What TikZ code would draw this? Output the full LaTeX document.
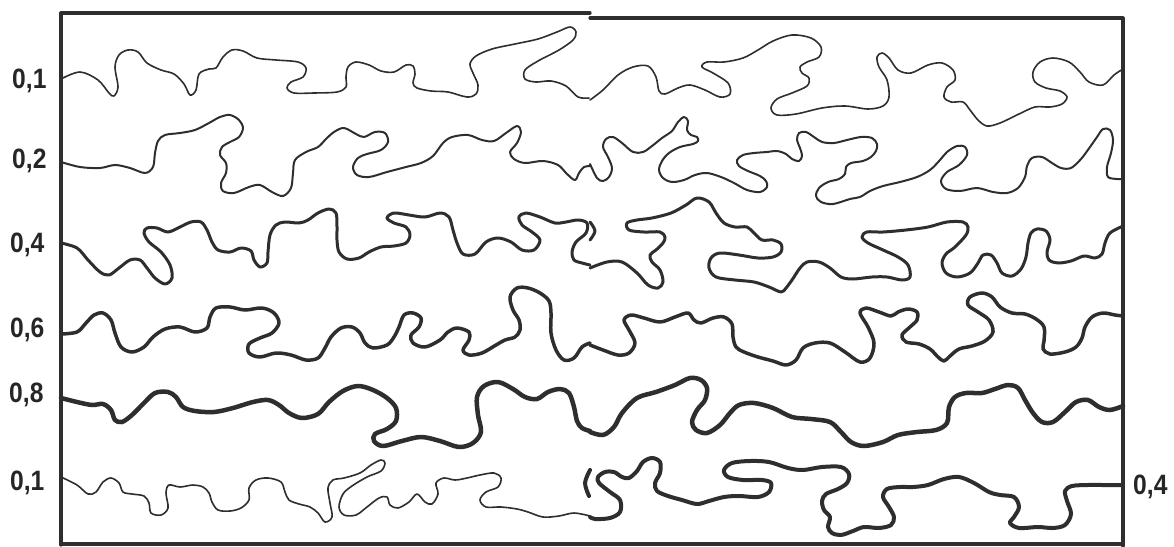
\documentclass[tikz,border=0pt]{standalone}
\usepackage{fontspec}
\setmainfont[FakeStretch=0.88]{Liberation Sans}
\begin{document}
\begin{tikzpicture}[x=1pt,y=-1pt,
  ink/.style={draw=black!82, line cap=round, line join=round},
  frameline/.style={ink, line width=3.2pt},
  wave/.style={ink, smooth, tension=0.55},
  lab/.style={font=\fontsize{28}{28}\selectfont\bfseries, text=black!85, inner sep=0pt, anchor=base west}]
\useasboundingbox (0,0) rectangle (1174,546);
% frame
\draw[frameline] (590,13) -- (61,13) -- (61,545);
\draw[frameline] (61,544) -- (1123,544);
\draw[frameline] (590,18) -- (1123,18) -- (1123,546);
% labels
\node[lab] (l1) at (12,88) {0,1};
\node[lab] (l2) at (12,168) {0,2};
\node[lab] (l3) at (10,252) {0,4};
\node[lab] (l4) at (10,337) {0,6};
\node[lab] (l5) at (9,402) {0,8};
\node[lab] (l6) at (10,490) {0,1};
\node[lab] (l7) at (1133,494) {0,4};
% row 1 (0,1)
\draw[wave, line width=1.6pt] plot coordinates {(61,79) (80,72) (98,80) (109,93) (114,96) (118,87) (115,67) (119,55) (128,50) (138,52) (147,63) (161,70) (174,74) (184,84) (190,95) (196,90) (199,74) (209,69) (216,68) (223,57) (232,50) (243,51) (257,58) (276,60) (298,62) (306,68) (303,77) (291,82) (287,88) (294,93) (314,93) (337,92) (346,87) (346,77) (348,67) (356,62) (369,65) (381,71) (394,72) (406,65) (413,66) (415,74) (413,83) (417,88) (431,91) (448,92) (467,97) (476,94) (478,85) (473,73) (470,64) (476,56) (492,49) (515,44) (538,39) (557,32) (570,27) (576,32) (573,40) (559,50) (538,61) (525,70) (525,79) (536,82) (551,81) (566,86) (578,97) (589,98)};
\draw[wave, line width=1.6pt] plot coordinates {(590,100) (603,90) (618,75) (633,67) (648,66) (656,77) (659,91) (665,94) (678,88) (690,85) (705,90) (720,97) (730,94) (728,83) (713,73) (702,67) (707,62) (724,62) (743,58) (758,50) (773,41) (792,35) (811,38) (821,47) (819,57) (807,62) (800,67) (802,73) (809,78) (807,86) (792,93) (777,99) (771,108) (777,115) (796,114) (822,108) (845,106) (868,109) (883,106) (889,97) (887,80) (879,67) (877,57) (882,53) (889,58) (898,70) (911,73) (928,65) (942,63) (953,70) (955,80) (947,87) (944,97) (951,102) (963,102) (970,110) (978,120) (987,126) (1000,123) (1019,114) (1035,107) (1050,107) (1062,104) (1067,97) (1060,91) (1046,88) (1035,82) (1033,72) (1040,62) (1053,58) (1069,62) (1080,72) (1089,82) (1103,85) (1114,75) (1123,69)};
% row 2 (0,2)
\draw[wave, line width=2pt] plot coordinates {(61,162) (80,167) (100,168) (115,165) (130,168) (145,173) (153,167) (155,153) (158,141) (165,135) (180,133) (195,130) (209,123) (220,117) (230,115) (239,120) (243,128) (239,137) (230,142) (222,147) (220,155) (226,163) (226,173) (221,183) (223,191) (234,193) (249,187) (260,185) (272,192) (283,196) (291,188) (293,173) (295,160) (306,152) (318,147) (326,139) (334,132) (344,128) (356,134) (364,137) (375,132) (385,133) (388,142) (381,150) (367,154) (358,158) (353,167) (357,175) (369,177) (387,172) (406,167) (421,163) (433,156) (443,143) (452,137) (468,135) (482,140) (494,141) (506,133) (517,126) (521,132) (517,143) (510,152) (514,159) (525,163) (543,161) (558,165) (567,174) (575,180) (579,173) (584,167) (590,166)};
\draw[wave, line width=2pt] plot coordinates {(590,164) (597,178) (603,181) (609,177) (612,168) (608,157) (603,147) (606,139) (613,137) (622,143) (633,152) (643,152) (652,146) (662,138) (672,131) (678,122) (684,117) (688,121) (687,130) (691,135) (697,137) (698,141) (693,144) (680,147) (669,153) (662,161) (659,170) (663,178) (672,182) (684,180) (695,175) (707,173) (721,177) (734,183) (747,190) (760,192) (767,187) (766,181) (760,176) (748,171) (739,166) (737,160) (743,155) (754,153) (767,152) (777,151) (786,154) (792,159) (799,161) (802,156) (800,148) (797,140) (799,133) (806,132) (814,137) (822,142) (834,143) (847,140) (861,137) (872,138) (877,144) (876,151) (871,157) (863,161) (851,163) (846,167) (845,174) (839,179) (828,182) (819,188) (816,196) (821,202) (833,204) (850,199) (860,197) (870,191) (883,186) (900,182) (917,177) (930,170) (940,160) (947,152) (957,146) (965,147) (967,155) (959,165) (947,172) (941,181) (946,189) (960,191) (977,188) (993,192) (1007,193) (1018,188) (1025,177) (1027,166) (1032,158) (1042,157) (1052,163) (1061,168) (1071,168) (1081,159) (1090,147) (1097,137) (1103,129) (1110,130) (1113,140) (1111,153) (1107,167) (1108,177) (1117,179) (1123,179)};
% row 3 (0,4)
\draw[wave, line width=3pt] plot coordinates {(61,243) (77,248) (88,260) (100,272) (109,275) (119,268) (130,260) (140,260) (147,268) (155,278) (165,284) (172,278) (170,265) (161,252) (149,242) (144,233) (147,228) (157,228) (168,232) (180,227) (191,222) (201,222) (207,230) (212,242) (218,250) (230,252) (241,248) (251,251) (254,260) (260,267) (267,263) (268,252) (270,235) (276,225) (285,222) (299,223) (308,220) (318,213) (329,209) (336,213) (337,227) (337,240) (339,252) (347,259) (359,258) (369,252) (381,247) (394,246) (406,243) (410,235) (406,227) (394,223) (387,218) (394,213) (409,215) (425,217) (440,213) (449,217) (453,230) (457,243) (463,254) (475,254) (486,242) (498,238) (511,242) (522,250) (534,250) (540,240) (532,232) (522,225) (519,217) (526,213) (540,217) (555,223) (566,222) (578,220) (587,223) (586,233) (576,242) (572,252) (574,260) (582,263) (590,265)};
\draw[wave, line width=3pt] plot coordinates {(590,222) (595,231) (590,240)};
\draw[wave, line width=3pt] plot coordinates {(590,268) (607,262) (622,262) (637,273) (648,285) (658,288) (663,282) (660,270) (652,262) (650,255) (656,250) (663,243) (665,237) (660,232) (644,232) (629,230) (627,223) (637,220) (652,218) (671,213) (686,205) (697,198) (709,202) (716,213) (724,223) (735,227) (747,227) (754,233) (762,240) (773,240) (781,244) (781,252) (773,257) (758,258) (739,255) (720,253) (711,258) (709,268) (716,277) (735,280) (754,282) (769,287) (781,292) (786,288) (792,280) (800,268) (807,262) (819,262) (830,268) (841,277) (853,279) (872,277) (887,277) (902,280) (910,277) (908,265) (898,257) (883,250) (868,243) (862,237) (867,232) (883,232) (906,230) (928,227) (947,222) (963,222) (968,227) (966,235) (955,247) (946,254) (942,263) (946,273) (957,277) (970,273) (978,263) (983,255) (991,255) (997,263) (1002,273) (1012,276) (1021,269) (1026,257) (1028,243) (1031,233) (1037,229) (1046,231) (1050,240) (1047,252) (1049,260) (1058,263) (1071,261) (1084,256) (1095,258) (1102,254) (1105,243) (1110,233) (1123,226)};
% row 4 (0,6)
\draw[wave, line width=3.5pt] plot coordinates {(61,334) (77,332) (86,323) (94,315) (103,313) (111,320) (115,333) (121,347) (132,352) (144,347) (153,337) (165,329) (180,327) (195,332) (207,328) (210,317) (216,308) (230,307) (245,310) (262,308) (274,313) (279,323) (272,333) (260,338) (249,344) (249,353) (260,357) (276,353) (291,355) (306,360) (318,358) (325,348) (331,337) (341,328) (352,327) (360,333) (365,343) (373,348) (387,345) (394,337) (399,327) (404,315) (413,313) (421,318) (419,327) (411,335) (413,343) (425,347) (440,340) (448,332) (457,328) (469,332) (469,340) (463,350) (469,355) (482,353) (496,345) (505,340) (515,337) (520,330) (519,320) (513,310) (510,297) (517,288) (528,288) (540,293) (549,301) (551,313) (551,333) (556,350) (564,360) (574,358) (582,347) (590,343)};
\draw[wave, line width=3.5pt] plot coordinates {(590,345) (603,350) (618,355) (629,353) (635,343) (629,330) (624,320) (631,315) (644,318) (660,322) (675,317) (688,313) (694,320) (701,323) (713,318) (724,317) (732,324) (733,337) (736,347) (744,352) (758,357) (773,361) (786,365) (796,360) (803,348) (815,343) (830,343) (845,352) (860,362) (870,358) (874,343) (868,327) (860,313) (866,308) (879,312) (891,316) (898,312) (908,309) (917,312) (917,320) (910,327) (902,335) (906,342) (919,344) (930,349) (938,357) (944,361) (950,356) (959,349) (972,346) (985,341) (993,332) (989,320) (978,312) (968,305) (970,297) (982,293) (992,297) (1000,307) (1012,313) (1025,314) (1036,319) (1044,327) (1044,341) (1043,349) (1050,354) (1065,352) (1076,347) (1082,338) (1085,327) (1092,317) (1103,313) (1115,315) (1123,316)};
% row 5 (0,8)
\draw[wave, line width=4.5pt] plot coordinates {(61,398) (77,402) (92,405) (103,404) (111,410) (115,420) (122,422) (132,415) (144,403) (155,393) (168,392) (176,397) (183,407) (195,411) (214,412) (233,408) (253,402) (268,400) (279,405) (289,413) (302,418) (318,414) (329,402) (343,391) (358,386) (373,390) (387,398) (396,408) (396,421) (387,429) (375,434) (374,441) (383,446) (402,441) (421,437) (440,441) (459,447) (473,443) (481,432) (478,415) (477,397) (484,386) (498,382) (513,389) (525,397) (537,399) (548,392) (560,389) (569,393) (574,407) (577,421) (582,428) (590,431)};
\draw[wave, line width=4.5pt] plot coordinates {(590,432) (603,435) (614,427) (622,413) (637,398) (656,392) (675,385) (690,378) (701,380) (707,388) (705,400) (697,410) (692,422) (696,430) (707,433) (720,425) (730,413) (739,405) (754,403) (773,408) (792,417) (811,419) (830,422) (841,432) (851,442) (864,446) (883,442) (898,435) (917,432) (936,430) (947,423) (949,407) (955,397) (966,393) (982,393) (995,389) (1008,385) (1018,388) (1025,400) (1033,413) (1042,422) (1053,422) (1065,412) (1076,402) (1088,400) (1099,407) (1110,410) (1123,406)};
% row 6 left (0,1)
\draw[wave, line width=1.6pt] plot coordinates {(61,477) (77,485) (88,494) (96,492) (103,482) (111,478) (119,483) (123,492) (132,494) (144,496) (149,503) (151,513) (161,515) (168,508) (166,493) (169,485) (180,487) (193,485) (203,487) (209,493) (212,502) (218,510) (230,511) (241,508) (249,500) (249,488) (256,480) (268,478) (281,482) (285,492) (289,500) (299,504) (310,507) (318,513) (325,522) (332,517) (330,503) (328,488) (333,480) (344,478) (360,473) (371,465) (381,460) (385,463) (381,471) (367,477) (352,486) (343,494) (339,507) (344,515) (356,515) (367,507) (379,498) (387,497) (390,505) (398,508) (409,502) (417,494) (425,502) (432,504) (438,494) (436,483) (444,478) (455,480) (467,478) (480,475) (494,473) (501,478) (498,487) (486,492) (480,500) (486,507) (501,507) (517,509) (528,512) (543,517) (559,516) (574,513) (590,516)};
% row 6 right (0,4)
\draw[wave, line width=4pt] plot coordinates {(590,470) (585,483) (589,496)};
\draw[wave, line width=4pt] plot coordinates {(590,517) (595,519) (610,518) (620,512) (620,500) (610,492) (599,483) (598,477) (605,472) (614,472) (622,477) (629,478) (637,471) (643,462) (652,458) (660,462) (660,473) (655,483) (657,491) (668,496) (682,500) (697,504) (709,501) (724,497) (739,496) (758,497) (769,492) (771,483) (762,480) (743,480) (728,477) (724,470) (732,463) (750,461) (769,462) (788,468) (803,470) (822,467) (841,467) (849,474) (847,483) (838,489) (826,494) (822,501) (824,510) (830,517) (828,527) (832,533) (841,535) (853,531) (864,527) (879,528) (891,525) (894,517) (889,507) (883,497) (887,489) (900,487) (913,487) (928,485) (944,479) (959,477) (974,483) (989,492) (1000,495) (1014,497) (1019,507) (1014,517) (1010,523) (1019,528) (1038,527) (1053,528) (1065,525) (1071,514) (1067,501) (1065,491) (1072,486) (1088,485) (1103,485) (1123,485)};
\end{tikzpicture}
\end{document}
